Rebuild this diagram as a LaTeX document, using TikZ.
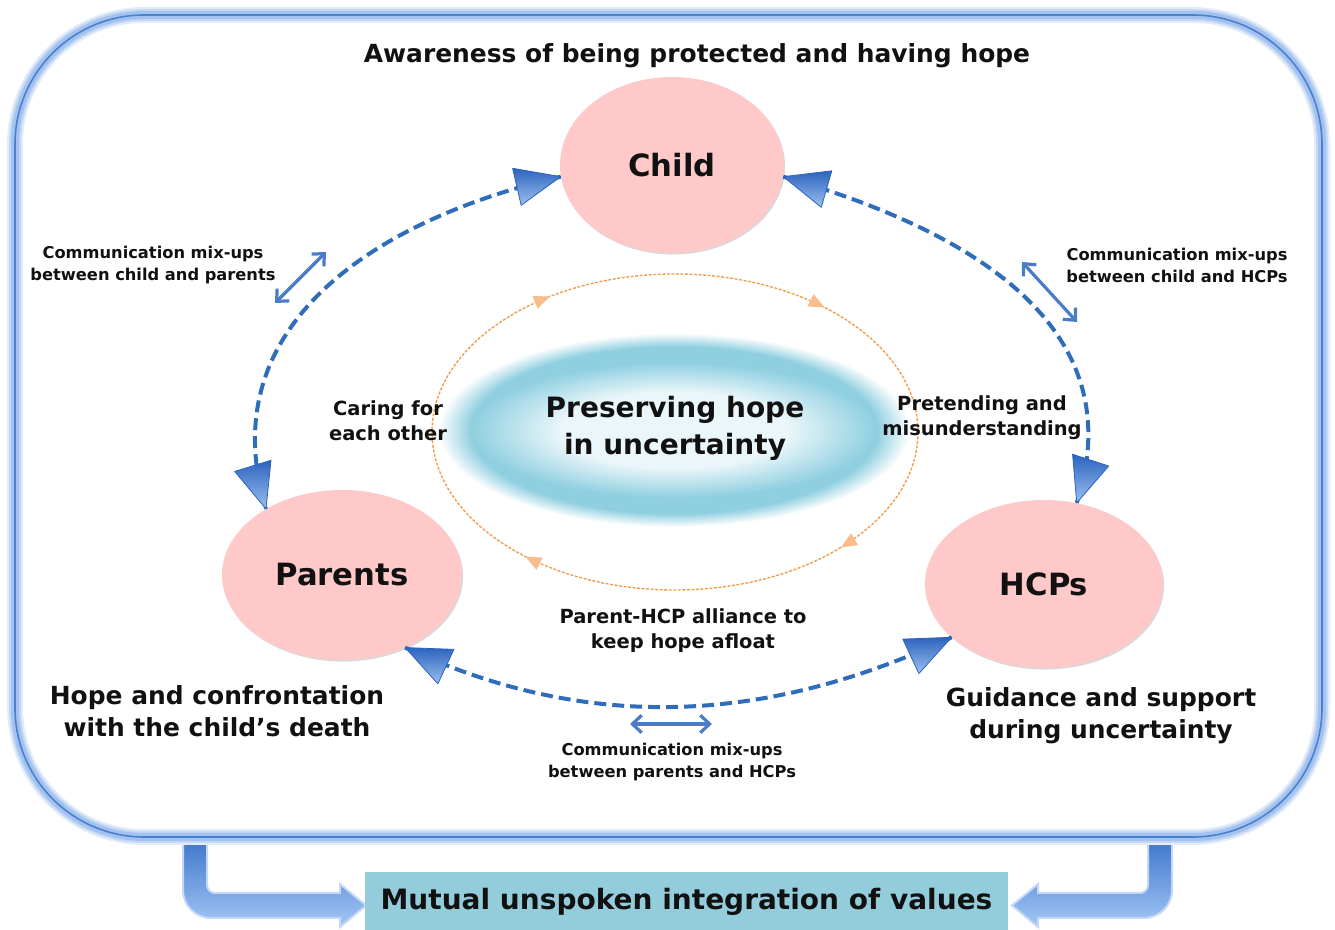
\documentclass[tikz,border=0pt]{standalone}
\usepackage{fontspec}
\setmainfont{DejaVu Sans}
\usetikzlibrary{shapes.geometric, arrows.meta, decorations.markings, shadows}

\definecolor{framedark}{HTML}{4A80D2}
\definecolor{framemid}{HTML}{A3C2EE}
\definecolor{framesoft}{HTML}{C4D8F4}
\definecolor{framelight}{HTML}{E3EDFA}
\definecolor{pinkfill}{HTML}{FFC9C9}
\definecolor{arcblue}{HTML}{2F6DBB}
\definecolor{headdark}{HTML}{2C63BE}
\definecolor{headlight}{HTML}{9CC0F0}
\definecolor{mixblue}{HTML}{4A7CC8}
\definecolor{ringorange}{HTML}{F29A45}
\definecolor{ringhead}{HTML}{F9BD8C}
\definecolor{blobin}{HTML}{EAF6F9}
\definecolor{blobmid}{HTML}{B8E1EC}
\definecolor{blobblue}{HTML}{8FCFE0}
\definecolor{boxteal}{HTML}{93CDDC}
\definecolor{bararrowtop}{HTML}{3C74CC}
\definecolor{bararrowbot}{HTML}{A5C8F5}
\definecolor{bararrowedge}{HTML}{C2D8F6}
\definecolor{inktext}{HTML}{111111}

% soft cloud behind the central statement (path edge sits at 25bp)
\pgfdeclareradialshading{blobouter}{\pgfpoint{0bp}{0bp}}{color(0bp)=(blobblue); color(21.5bp)=(blobblue); color(25bp)=(white); color(50bp)=(white)}
\pgfdeclareradialshading{blobinner}{\pgfpoint{0bp}{0bp}}{color(0bp)=(blobin); color(14bp)=(blobin); color(20bp)=(blobmid); color(25bp)=(blobblue); color(50bp)=(blobblue)}

% large shaded arrow head, drawn in marking coordinates (#1 = +1 at the start, -1 at the end)
\newcommand\bighead[1]{%
  \shade[top color=headdark, bottom color=headlight, solid] (0,0) -- (#1*45,19) -- (#1*45,-19) -- cycle;
  \draw[headdark, line width=0.6pt, solid, line join=round] (0,0) -- (#1*45,19) -- (#1*45,-19) -- cycle;}

\tikzset{
  person/.style={ellipse, fill=pinkfill, inner sep=0pt, text=inktext,
    font=\bfseries\fontsize{23}{27}\selectfont,
    drop shadow={shadow xshift=0.8pt, shadow yshift=-1.2pt, opacity=0.3}},
  titletxt/.style={text=inktext, align=center, font=\bfseries\fontsize{18.7}{24}\selectfont},
  bigtxt/.style={text=inktext, align=center, font=\bfseries\fontsize{18.7}{24}\selectfont},
  midtxt/.style={text=inktext, align=center, font=\bfseries\fontsize{14.6}{18.75}\selectfont},
  smalltxt/.style={text=inktext, align=center, font=\bfseries\fontsize{12.2}{16.5}\selectfont},
  coretxt/.style={text=inktext, align=center, font=\bfseries\fontsize{21}{27.75}\selectfont},
  valuebox/.style={fill=boxteal, inner sep=0pt, minimum width=482pt, minimum height=44pt,
    text=inktext, font=\bfseries\fontsize{21}{25}\selectfont},
  commarc/.style={arcblue, line width=3pt, dash pattern=on 9pt off 4.5pt,
    postaction={decorate}, decoration={markings,
      mark=at position 0 with {\bighead{1}},
      mark=at position 0.9999 with {\bighead{-1}}}},
  mixarrow/.style={mixblue, line width=2.4pt,
    arrows={Straight Barb[length=7pt,width=13pt]-Straight Barb[length=7pt,width=13pt]}},
  ringtip/.tip={Triangle[length=12pt,width=10pt,color=ringhead]},
  bararrow/.style={top color=bararrowtop, bottom color=bararrowbot, draw=bararrowedge, line width=1.5pt},
}

\begin{document}
\begin{tikzpicture}[x=0.75pt, y=0.75pt]
\useasboundingbox (0,0) rectangle (1335,930);

% arrows leaving the frame towards the summary box
\path[bararrow] (183,92) -- (183,40) arc[start angle=180, end angle=270, radius=28]
  -- (340,12) -- (340,3) -- (366,24.5) -- (340,46) -- (340,37) -- (215,37)
  arc[start angle=270, end angle=180, radius=8] -- (207,92) -- cycle;
\path[bararrow] (1172,92) -- (1172,40) arc[start angle=0, end angle=-90, radius=28]
  -- (1038,12) -- (1038,3) -- (1012,24.5) -- (1038,46) -- (1038,37) -- (1140,37)
  arc[start angle=270, end angle=360, radius=8] -- (1148,92) -- cycle;

% glowing outer frame
\foreach \w/\c in {12pt/framelight, 9pt/framesoft, 6pt/framemid, 1.2pt/framedark}
  \draw[line width=\w, color=\c, rounded corners=97pt] (15,93) rectangle (1322,915);

% central cloud
\shade[shading=blobouter] (674,500) ellipse [x radius=236, y radius=97];
\shade[shading=blobinner] (674,500) ellipse [x radius=203, y radius=68];

% dotted ring turning clockwise
\draw[ringorange, line width=1pt, dash pattern=on 2.2pt off 1.2pt,
  postaction={decorate}, decoration={markings,
    mark=at position 0.114 with {\arrow{ringtip}},
    mark=at position 0.3715 with {\arrow{ringtip}},
    mark=at position 0.6497 with {\arrow{ringtip}},
    mark=at position 0.8715 with {\arrow{ringtip}}}]
  (918,498) arc[start angle=0, end angle=-360, x radius=243, y radius=158];

% the three parties
\node[person, minimum width=168pt, minimum height=132pt] (child) at (672,765) {Child};
\node[person, minimum width=180pt, minimum height=127.5pt] (parents) at (342,355) {Parents};
\node[person, minimum width=178.5pt, minimum height=126pt] (hcps) at (1044,346) {HCPs};

% communication links between the parties
\draw[commarc] (child.186) to[out=193, in=107, looseness=1.1] (parents.139);
\draw[commarc] (child.-6) to[out=-16, in=72, looseness=1.1] (hcps.68);
\draw[commarc] (parents.-49) to[out=-25, in=205, looseness=0.95] (hcps.210);

% mix-up markers
\coordinate (cpA) at (275,627);
\coordinate (cpB) at (326,678);
\coordinate (chA) at (1022,668);
\coordinate (chB) at (1077,608);
\coordinate (phA) at (630,206);
\coordinate (phB) at (712,206);
\draw[mixarrow] (cpA) -- (cpB);
\draw[mixarrow] (chA) -- (chB);
\draw[mixarrow] (phA) -- (phB);

% texts
\node[titletxt] (aware) at (697,874) {Awareness of being protected and having hope};
\node[smalltxt] (mixcp) at (153,665) {Communication mix-ups\\between child and parents};
\node[smalltxt] (mixch) at (1177,665) {Communication mix-ups\\between child and HCPs};
\node[midtxt] (caring) at (388,509) {Caring for\\each other};
\node[midtxt] (pretend) at (982,512) {Pretending and\\misunderstanding};
\node[coretxt] (core) at (675,502) {Preserving hope\\in uncertainty};
\node[midtxt] (alliance) at (683,299) {Parent-HCP alliance to\\keep hope afloat};
\node[bigtxt] (hopeconf) at (217,219) {Hope and confrontation\\with the child’s death};
\node[bigtxt] (guidance) at (1101,214) {Guidance and support\\during uncertainty};
\node[smalltxt] (mixph) at (672,168) {Communication mix-ups\\between parents and HCPs};
\node[valuebox] (values) at (686.5,28.5) {Mutual unspoken integration of values};
\end{tikzpicture}
\end{document}
